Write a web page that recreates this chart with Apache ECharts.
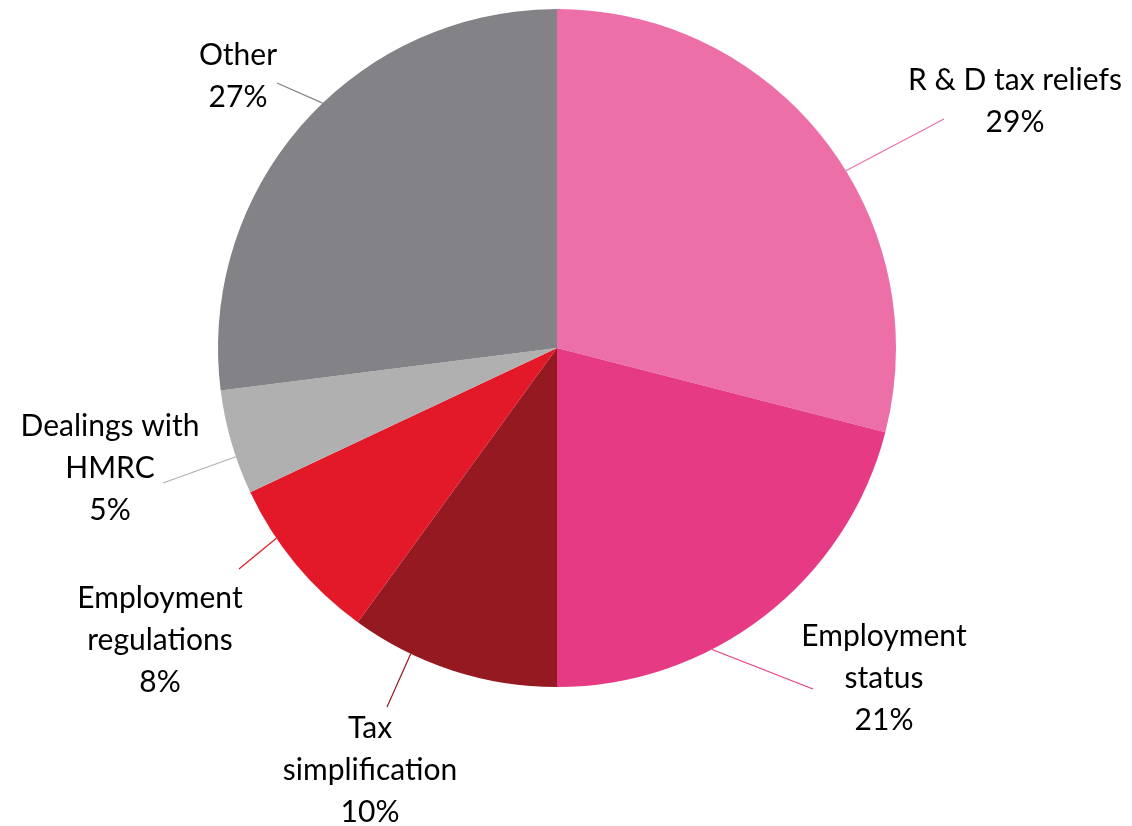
<!DOCTYPE html>
<html>
<head>
<meta charset="utf-8">
<title>Pie chart</title>
<script src="https://cdn.jsdelivr.net/npm/echarts@6/dist/echarts.min.js"></script>
<style>
  html, body { margin: 0; padding: 0; background: #ffffff; }
  #chart { width: 1132px; height: 826px; }
</style>
</head>
<body>
<div id="chart"></div>
<script>
// Slice names (line breaks as set in the labels) and shares in percent
const categories = [
  'R & D tax reliefs',
  'Employment\nstatus',
  'Tax\nsimplification',
  'Employment\nregulations',
  'Dealings with\nHMRC',
  'Other'
];
const shares = [29, 21, 10, 8, 5, 27];
const colors = ['#ED6FA8', '#E63B84', '#951921', '#E31829', '#B0B0B0', '#838287'];

// Label placement: block centre, leader-line end relative to that centre,
// and where along its slice's arc the leader line starts (0 = start, 1 = end)
const labelCentres = [[1015, 101], [884, 678], [370, 770], [160, 640], [110, 468], [238, 76]];
const lineEnds = [[-71, 18], [-71, 11], [17, -63], [79, -71], [53, 15], [39, 7]];
const arcAnchor = [0.56, 0.64, 0.71, 0.69, 0.36, 0.55];

const chart = echarts.init(document.getElementById('chart'), null, { renderer: 'canvas' });

const option = {
  backgroundColor: '#ffffff',
  animation: false,
  series: [{
    type: 'pie',
    center: [557, 348],
    radius: 339,
    startAngle: 90,
    clockwise: true,
    avoidLabelOverlap: false,
    data: categories.map((name, i) => ({
      name: name,
      value: shares[i],
      itemStyle: { color: colors[i] }
    })),
    itemStyle: { borderWidth: 0 },
    label: {
      show: true,
      position: 'outside',
      fontFamily: 'Lato, "Open Sans", sans-serif',
      fontSize: 30,
      lineHeight: 42,
      color: '#000000',
      align: 'center',
      formatter: p => p.name + '\n' + Math.round(p.percent) + '%'
    },
    labelLine: {
      show: true,
      length: 20,
      length2: 0,
      smooth: false,
      lineStyle: { width: 1.2 }
    },
    labelLayout: function (params) {
      const i = params.dataIndex;
      const lay = chart.getModel().getSeriesByIndex(0).getData().getItemLayout(i);
      const a = lay.startAngle + arcAnchor[i] * (lay.endAngle - lay.startAngle);
      const start = [lay.cx + lay.r * Math.cos(a), lay.cy + lay.r * Math.sin(a)];
      const c = labelCentres[i];
      const end = [c[0] + lineEnds[i][0], c[1] + lineEnds[i][1]];
      return {
        x: c[0],
        y: c[1],
        align: 'center',
        verticalAlign: 'middle',
        labelLinePoints: [start, end]
      };
    },
    emphasis: { disabled: true }
  }]
};

chart.setOption(option);
</script>
</body>
</html>
